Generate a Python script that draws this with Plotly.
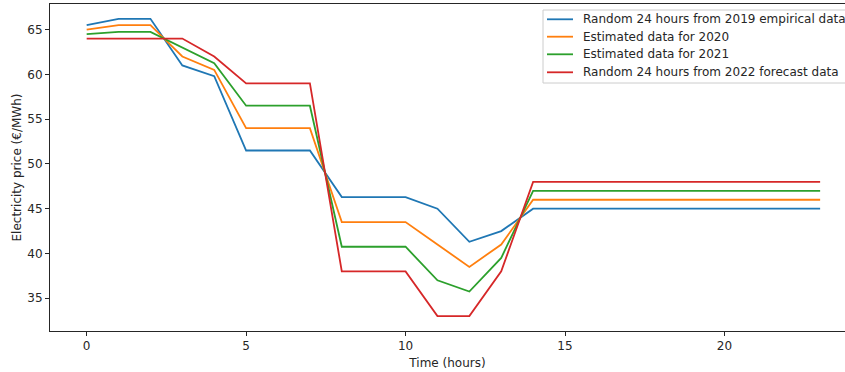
import plotly.graph_objects as go

# Hour of day
hours = list(range(24))

# Electricity price per hour (€/MWh)
price_2019 = [65.5, 66.2, 66.2, 61.0, 59.8, 51.5, 51.5, 51.5, 46.3, 46.3, 46.3, 45.0,
              41.3, 42.5, 45.0, 45.0, 45.0, 45.0, 45.0, 45.0, 45.0, 45.0, 45.0, 45.0]
price_2020 = [65.0, 65.5, 65.5, 62.0, 60.5, 54.0, 54.0, 54.0, 43.5, 43.5, 43.5, 41.0,
              38.5, 41.0, 46.0, 46.0, 46.0, 46.0, 46.0, 46.0, 46.0, 46.0, 46.0, 46.0]
price_2021 = [64.5, 64.75, 64.75, 63.0, 61.25, 56.5, 56.5, 56.5, 40.75, 40.75, 40.75, 37.0,
              35.75, 39.5, 47.0, 47.0, 47.0, 47.0, 47.0, 47.0, 47.0, 47.0, 47.0, 47.0]
price_2022 = [64.0, 64.0, 64.0, 64.0, 62.0, 59.0, 59.0, 59.0, 38.0, 38.0, 38.0, 33.0,
              33.0, 38.0, 48.0, 48.0, 48.0, 48.0, 48.0, 48.0, 48.0, 48.0, 48.0, 48.0]

series_names = [
    "Random 24 hours from 2019 empirical data",
    "Estimated data for 2020",
    "Estimated data for 2021",
    "Random 24 hours from 2022 forecast data",
]
series_values = [price_2019, price_2020, price_2021, price_2022]
colors = ["#1f77b4", "#ff7f0e", "#2ca02c", "#d62728"]

x_ticks = [0, 5, 10, 15, 20]
y_ticks = [35, 40, 45, 50, 55, 60, 65]

FONT = "DejaVu Sans"
FS = 12
TEXT = "#262626"

W, H = 845, 372
ML, MR, MT, MB = 50, 0, 4, 41
PW, PH = W - ML - MR, H - MT - MB


def px_x(px):
    return (px - ML) / PW


def px_y(py):
    return 1 - (py - MT) / PH


fig = go.Figure()
for name, vals, col in zip(series_names, series_values, colors):
    fig.add_trace(go.Scatter(
        x=hours, y=vals, mode="lines", name=name,
        line=dict(color=col, width=1.8),
    ))

axis_common = dict(
    showgrid=False, zeroline=False,
    showline=True, linecolor=TEXT, linewidth=1,
    ticks="outside", ticklen=4, tickwidth=1, tickcolor=TEXT,
    tickfont=dict(family=FONT, size=FS, color=TEXT),
)

# Legend box in the upper right corner, running off the right edge
shapes = [dict(
    type="rect", xref="paper", yref="paper",
    x0=px_x(543), x1=px_x(880), y0=px_y(83), y1=px_y(10),
    line=dict(color="#cccccc", width=1),
    fillcolor="rgba(255,255,255,0.8)", layer="above",
)]
annotations = []
row_y = [19.3, 36.7, 54.3, 72.3]
for name, col, ry in zip(series_names, colors, row_y):
    shapes.append(dict(
        type="line", xref="paper", yref="paper",
        x0=px_x(547), x1=px_x(573), y0=px_y(ry), y1=px_y(ry),
        line=dict(color=col, width=1.8), layer="above",
    ))
    annotations.append(dict(
        xref="paper", yref="paper", x=px_x(581), y=px_y(ry),
        xanchor="left", yanchor="middle", showarrow=False,
        text=name, font=dict(family=FONT, size=FS, color=TEXT),
    ))

fig.update_layout(
    width=W, height=H,
    margin=dict(l=ML, r=MR, t=MT, b=MB),
    paper_bgcolor="white", plot_bgcolor="white",
    font=dict(family=FONT, size=FS, color=TEXT),
    showlegend=False,
    xaxis=dict(
        range=[-1.15, 23.78], tickvals=x_ticks, mirror=True,
        title=dict(text="Time (hours)", standoff=6,
                   font=dict(family=FONT, size=FS, color=TEXT)),
        **axis_common,
    ),
    yaxis=dict(
        range=[31.34, 67.86], tickvals=y_ticks,
        title=dict(text="Electricity price (€/MWh)", standoff=3,
                   font=dict(family=FONT, size=FS, color=TEXT)),
        **axis_common,
    ),
    shapes=shapes,
    annotations=annotations,
)

fig.write_html("out.html")
